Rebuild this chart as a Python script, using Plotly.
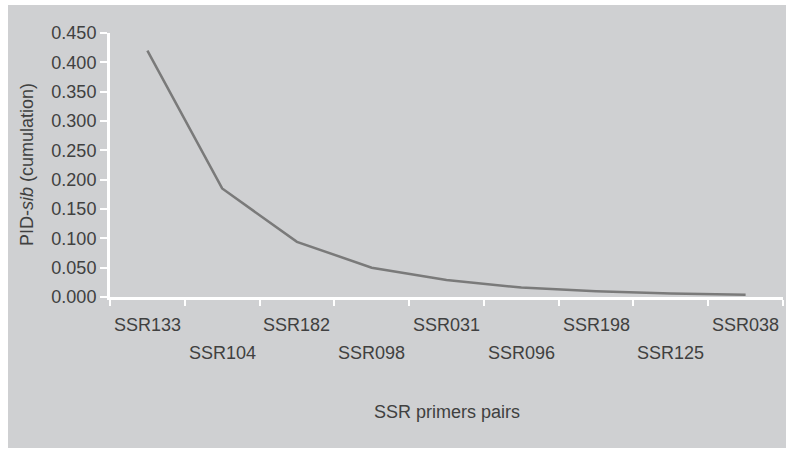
import plotly.graph_objects as go

primers = ["SSR133", "SSR104", "SSR182", "SSR098", "SSR031",
           "SSR096", "SSR198", "SSR125", "SSR038"]
pid_sib = [0.420, 0.185, 0.094, 0.050, 0.029, 0.016, 0.010, 0.006, 0.004]
y_ticks = [0.0, 0.05, 0.10, 0.15, 0.20, 0.25, 0.30, 0.35, 0.40, 0.45]

BG = "#cfd0d2"
TXT = "#404040"
FONT = "Liberation Sans, Arial, sans-serif"

W, H = 786, 449
L, R, T, B = 110, 3, 33, 152
pw, ph = W - L - R, H - T - B

fig = go.Figure()
fig.add_trace(go.Scatter(
    x=primers, y=pid_sib, mode="lines",
    line=dict(color="#7a7a7a", width=2.5),
    hoverinfo="x+y", showlegend=False,
))

# grey panel behind everything (in paper coords extended beyond plot area)
fig.add_shape(type="rect", xref="paper", yref="paper", layer="below",
              x0=(8 - L) / pw, x1=(W - L) / pw,
              y0=(T + ph - 448) / ph, y1=(T + ph - 5) / ph,
              fillcolor=BG, line=dict(width=0))

annotations = []
for i, p in enumerate(primers):
    annotations.append(dict(
        x=p, xref="x", y=0, yref="paper", text=p, showarrow=False,
        yanchor="middle", xanchor="center",
        yshift=-28 if i % 2 == 0 else -56,
        font=dict(size=18, color=TXT, family=FONT),
    ))
annotations.append(dict(
    x=0.5, xref="paper", y=0, yref="paper", text="SSR primers pairs",
    showarrow=False, yanchor="middle", xanchor="center", yshift=-115,
    font=dict(size=18, color=TXT, family=FONT),
))
annotations.append(dict(
    x=(27 - L) / pw, xref="paper", y=0.5, yref="paper",
    text="PID-<i>sib</i> (cumulation)", textangle=-90,
    showarrow=False, yanchor="middle", xanchor="center",
    font=dict(size=18, color=TXT, family=FONT),
))

fig.update_layout(
    width=W, height=H,
    margin=dict(l=L, r=R, t=T, b=B, autoexpand=False),
    paper_bgcolor="white", plot_bgcolor=BG,
    font=dict(family=FONT, size=18, color=TXT),
    annotations=annotations,
)
fig.update_xaxes(
    type="category", range=[-0.5, len(primers) - 0.5],
    showgrid=False, zeroline=False,
    showline=True, linecolor="white", linewidth=3,
    ticks="outside", tickson="boundaries", ticklen=6,
    tickcolor="white", tickwidth=2, showticklabels=False,
)
fig.update_yaxes(
    range=[0, 0.45], tickvals=y_ticks, tickformat=".3f",
    showgrid=False, zeroline=False,
    showline=True, linecolor="white", linewidth=3,
    ticks="outside", ticklen=7, tickcolor="white", tickwidth=2,
    tickfont=dict(size=18, color=TXT, family=FONT),
)

fig.write_html("out.html", config={"displayModeBar": False},
               post_script="document.body.style.margin='0';")
